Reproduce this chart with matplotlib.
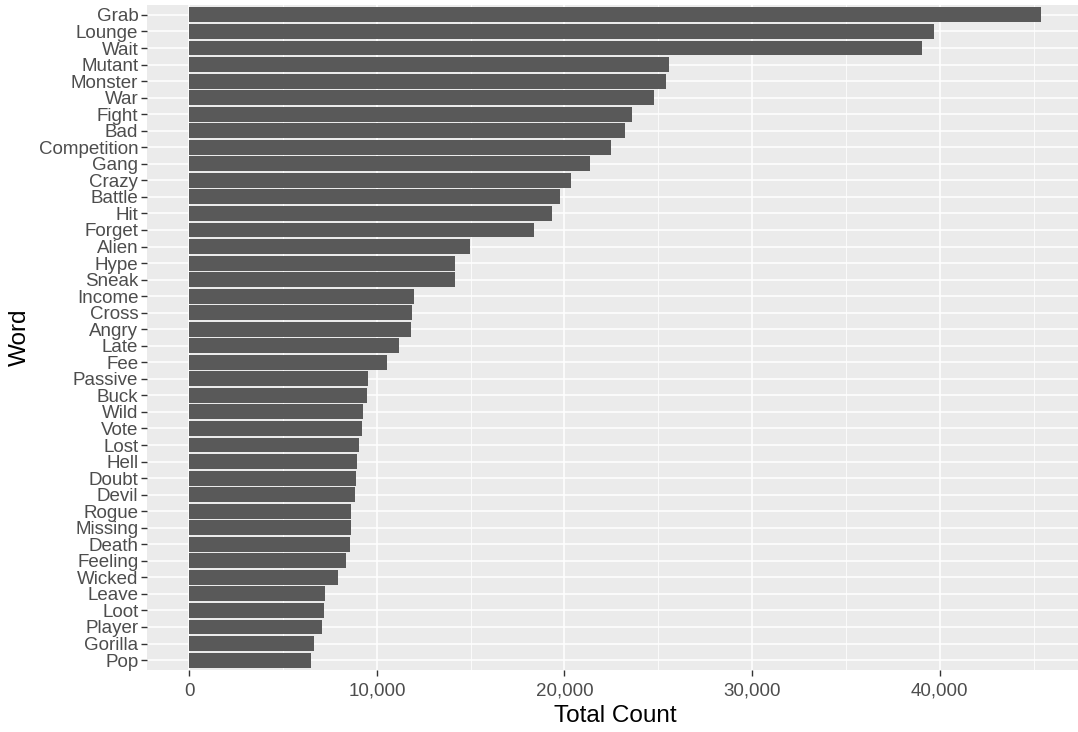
import numpy as np
import matplotlib
matplotlib.use("Agg")
import matplotlib.pyplot as plt
from matplotlib.ticker import FuncFormatter, MultipleLocator

words = ["Grab", "Lounge", "Wait", "Mutant", "Monster", "War", "Fight", "Bad",
         "Competition", "Gang", "Crazy", "Battle", "Hit", "Forget", "Alien",
         "Hype", "Sneak", "Income", "Cross", "Angry", "Late", "Fee", "Passive",
         "Buck", "Wild", "Vote", "Lost", "Hell", "Doubt", "Devil", "Rogue",
         "Missing", "Death", "Feeling", "Wicked", "Leave", "Loot", "Player",
         "Gorilla", "Pop"]
counts = [45400, 39700, 39050, 25570, 25410, 24790, 23610, 23220,
          22490, 21380, 20360, 19740, 19350, 18370, 14980,
          14180, 14180, 11990, 11890, 11800, 11180, 10550, 9510,
          9470, 9280, 9210, 9050, 8960, 8890, 8820, 8640,
          8620, 8580, 8340, 7940, 7250, 7160, 7070,
          6650, 6490]
x_ticks = [0, 10000, 20000, 30000, 40000]

plt.rcParams['font.family'] = ['Liberation Sans', 'DejaVu Sans']

fig = plt.figure(figsize=(10.78, 7.32), dpi=100)
ax = fig.add_axes([146.7 / 1078, 62 / 732, (1083.6 - 146.7) / 1078, 665 / 732])
ax.set_facecolor('#EBEBEB')

n = len(words)
ypos = np.arange(n)[::-1]
ax.barh(ypos, counts, height=0.9, color='#595959', zorder=3)

ax.set_ylim(-0.6, n - 1 + 0.6)
ax.set_xlim(-0.05 * max(counts), 1.05 * max(counts))
ax.set_yticks(ypos)
ax.set_yticklabels(words)
ax.set_xticks(x_ticks)
ax.xaxis.set_minor_locator(MultipleLocator(5000))
ax.xaxis.set_major_formatter(FuncFormatter(lambda v, p: f"{int(v):,}"))

ax.grid(which='major', color='white', linewidth=1.1, zorder=0)
ax.grid(which='minor', axis='x', color='white', linewidth=0.55, zorder=0)
for s in ax.spines.values():
    s.set_visible(False)
ax.tick_params(axis='both', which='major', length=4, width=1, color='#333333',
               labelcolor='#4D4D4D', labelsize=13.5, pad=2)
ax.tick_params(axis='x', which='major', pad=5)
ax.tick_params(axis='x', which='minor', length=0)

ax.set_xlabel('Total Count', fontsize=17.5, color='black', labelpad=4)
ax.set_ylabel('Word', fontsize=17.5, color='black', labelpad=6)

fig.savefig('out.png', dpi=100)
